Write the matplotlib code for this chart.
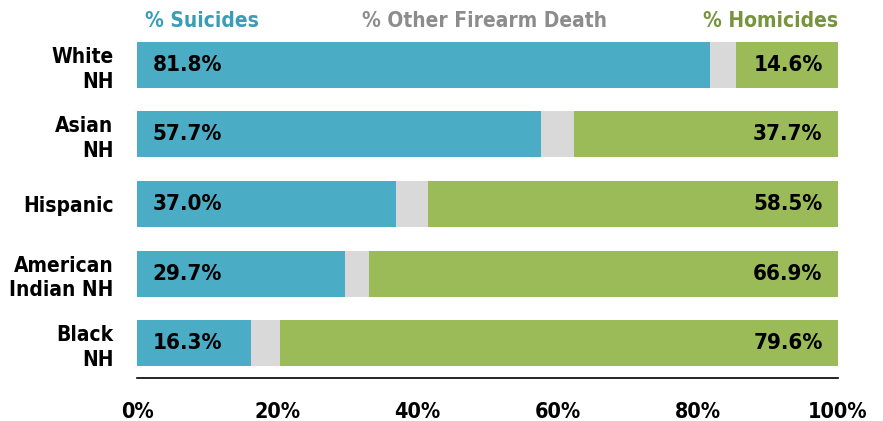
import numpy as np
import matplotlib.pyplot as plt

groups = ["White\nNH", "Asian\nNH", "Hispanic", "American\nIndian NH", "Black\nNH"]
suicides = [81.8, 57.7, 37.0, 29.7, 16.3]
homicides = [14.6, 37.7, 58.5, 66.9, 79.6]
other = [100 - s - h for s, h in zip(suicides, homicides)]
ticks = [0, 20, 40, 60, 80, 100]

blue = "#4BACC6"
grey = "#D9D9D9"
green = "#9BBB59"

plt.rcParams['font.family'] = ['DejaVu Sans']
plt.rcParams['font.stretch'] = 'condensed'
plt.rcParams['font.weight'] = 'bold'

fig = plt.figure(figsize=(8.83, 4.21), dpi=100)
ax = fig.add_axes([137 / 883, 1 - 378 / 421, (838 - 137) / 883, (378 - 30) / 421])

y = np.arange(len(groups))
ax.barh(y, suicides, height=0.66, color=blue)
ax.barh(y, other, left=suicides, height=0.66, color=grey)
ax.barh(y, homicides, left=np.add(suicides, other), height=0.66, color=green)

for i in range(len(groups)):
    ax.text(2.2, y[i], f"{suicides[i]:.1f}%", va="center", ha="left", fontsize=16, fontweight="bold")
    ax.text(97.8, y[i], f"{homicides[i]:.1f}%", va="center", ha="right", fontsize=16, fontweight="bold")

ax.set_ylim(len(groups) - 0.5, -0.5)
ax.set_xlim(0, 100)
ax.set_yticks(y)
ax.set_yticklabels(groups, fontsize=15, fontweight="bold", linespacing=1.3)
ax.set_xticks(ticks)
ax.set_xticklabels([f"{t}%" for t in ticks], fontsize=15.5, fontweight="bold")
ax.tick_params(axis="x", length=0, pad=17)
ax.tick_params(axis="y", length=0, pad=17)
for s in ["top", "right", "left"]:
    ax.spines[s].set_visible(False)
ax.spines["bottom"].set_linewidth(1.2)

fig.text(145 / 883, 1 - 21 / 421, "% Suicides", color="#3A9DB5", fontsize=15, fontweight="bold", ha="left", va="center")
fig.text(484 / 883, 1 - 21 / 421, "% Other Firearm Death", color="#8C8C8C", fontsize=15, fontweight="bold", ha="center", va="center")
fig.text(838 / 883, 1 - 21 / 421, "% Homicides", color="#77933C", fontsize=15, fontweight="bold", ha="right", va="center")

fig.savefig("out.png", dpi=100)
